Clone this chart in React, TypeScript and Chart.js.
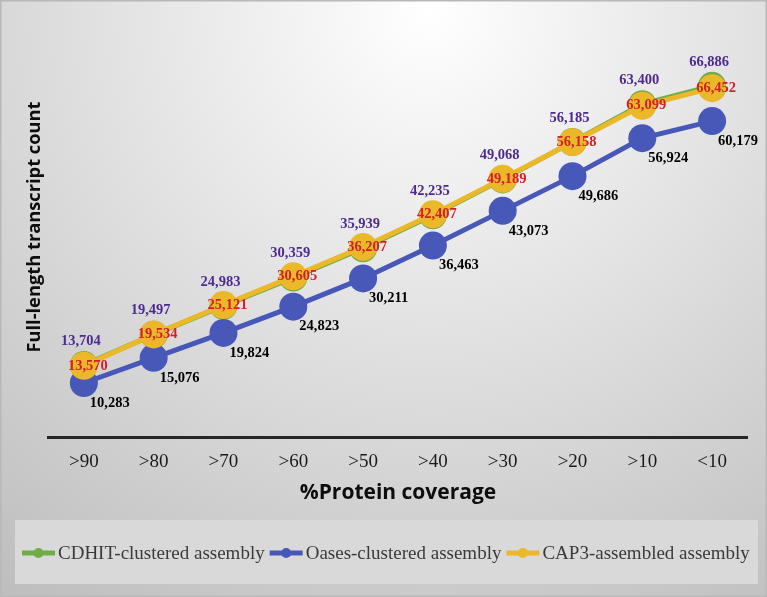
import React, { useEffect, useRef } from 'react';
import { Chart, registerables } from 'chart.js';

Chart.register(...registerables);

const categories = ['>90', '>80', '>70', '>60', '>50', '>40', '>30', '>20', '>10', '<10'];
const cdhitValues = [13704, 19497, 24983, 30359, 35939, 42235, 49068, 56185, 63400, 66886];
const oasesValues = [10283, 15076, 19824, 24823, 30211, 36463, 43073, 49686, 56924, 60179];
const cap3Values = [13570, 19534, 25121, 30605, 36207, 42407, 49189, 56158, 63099, 66452];
const seriesNames = ['CDHIT-clustered assembly', 'Oases-clustered assembly', 'CAP3-assembled assembly'];
const seriesColors = ['#70AD47', '#4858B8', '#EBB82A'];
const labelColors = ['#4E2A8E', '#000000', '#D0202A'];
const yMin = 0;
const yMax = 80000;

const W = 767;
const H = 597;

const backgroundPlugin = {
  id: 'bgPlugin',
  beforeDraw(chart: any) {
    const ctx = chart.ctx as CanvasRenderingContext2D;
    ctx.save();
    const g = ctx.createRadialGradient(430, 10, 0, 430, 10, 760);
    g.addColorStop(0, '#ffffff');
    g.addColorStop(0.45, '#e0e0e0');
    g.addColorStop(1, '#bababa');
    ctx.fillStyle = g;
    ctx.fillRect(0, 0, W, H);
    ctx.strokeStyle = '#b8b8b8';
    ctx.lineWidth = 1.5;
    ctx.strokeRect(0.75, 0.75, W - 1.5, H - 1.5);
    // legend panel
    ctx.fillStyle = '#d9d9d9';
    ctx.fillRect(15, 520, 743, 64);
    ctx.restore();
  },
};

const labelPlugin = {
  id: 'valueLabels',
  afterDatasetsDraw(chart: any) {
    const ctx = chart.ctx as CanvasRenderingContext2D;
    ctx.save();
    ctx.font = 'bold 14.5px "Liberation Serif"';
    ctx.textBaseline = 'middle';
    chart.data.datasets.forEach((ds: any, i: number) => {
      const meta = chart.getDatasetMeta(i);
      meta.data.forEach((pt: any, j: number) => {
        const txt = Number(ds.data[j]).toLocaleString('en-US');
        ctx.fillStyle = labelColors[i];
        if (i === 0) {
          ctx.textAlign = 'center';
          ctx.fillText(txt, pt.x - 3, pt.y - 24);
        } else if (i === 1) {
          ctx.textAlign = 'left';
          ctx.fillText(txt, pt.x + 6, pt.y + 20);
        } else {
          ctx.textAlign = 'center';
          ctx.fillText(txt, pt.x + 4, pt.y);
        }
      });
    });
    ctx.restore();
  },
};

const legendPlugin = {
  id: 'customLegend',
  afterDraw(chart: any) {
    const ctx = chart.ctx as CanvasRenderingContext2D;
    ctx.save();
    ctx.font = '19px "Liberation Serif"';
    ctx.textBaseline = 'middle';
    ctx.textAlign = 'left';
    const y = 553;
    let x = 22;
    chart.data.datasets.forEach((ds: any) => {
      const color = ds.borderColor;
      ctx.strokeStyle = color;
      ctx.lineWidth = 5;
      ctx.beginPath();
      ctx.moveTo(x, y);
      ctx.lineTo(x + 33, y);
      ctx.stroke();
      ctx.fillStyle = color;
      ctx.beginPath();
      ctx.arc(x + 16.5, y, 5, 0, Math.PI * 2);
      ctx.fill();
      x += 36;
      ctx.fillStyle = '#3a3a3a';
      ctx.fillText(ds.label, x, y + 1);
      x += ctx.measureText(ds.label).width + 5;
    });
    ctx.restore();
  },
};

export default function App() {
  const ref = useRef<HTMLCanvasElement | null>(null);

  useEffect(() => {
    if (!ref.current) return;
    const values = [cdhitValues, oasesValues, cap3Values];
    const orders = [2, 1, 0];
    const radii = [14, 14, 14];
    const chart = new Chart(ref.current, {
      type: 'line',
      data: {
        labels: categories,
        datasets: values.map((v, i) => ({
          label: seriesNames[i],
          data: v,
          borderColor: seriesColors[i],
          backgroundColor: seriesColors[i],
          pointBackgroundColor: seriesColors[i],
          pointBorderWidth: 0,
          pointRadius: radii[i],
          pointHoverRadius: radii[i],
          borderWidth: 5,
          tension: 0,
          order: orders[i],
        })),
      },
      options: {
        responsive: false,
        animation: false,
        events: [],
        layout: { padding: { top: 17, left: 24, right: 20, bottom: 0 } },
        plugins: {
          legend: { display: false },
          tooltip: { enabled: false },
        },
        scales: {
          x: {
            type: 'category',
            offset: true,
            grid: { display: false, drawTicks: false },
            border: { display: true, color: '#262626', width: 3 },
            ticks: {
              padding: 14,
              color: '#1a1a1a',
              font: { family: '"Liberation Serif"', size: 19 },
            },
            title: {
              display: true,
              text: '%Protein coverage',
              color: '#0d0d0d',
              font: { family: '"Open Sans"', size: 21, weight: 'bold' },
              padding: { top: -7, bottom: 91 },
            },
          },
          y: {
            min: yMin,
            max: yMax,
            grid: { display: false, drawTicks: false },
            border: { display: false },
            ticks: { display: false },
            title: {
              display: true,
              text: 'Full-length transcript count',
              color: '#0d0d0d',
              font: { family: '"Open Sans"', size: 18.3, weight: 'bold' },
              padding: { top: 0, bottom: 3 },
            },
          },
        },
      },
      plugins: [backgroundPlugin, labelPlugin, legendPlugin],
    } as any);
    return () => chart.destroy();
  }, []);

  return (
    <div style={{ position: 'absolute', left: 0, top: 0, width: W, height: H }}>
      <canvas ref={ref} width={W} height={H} style={{ display: 'block', width: W, height: H }} />
    </div>
  );
}
